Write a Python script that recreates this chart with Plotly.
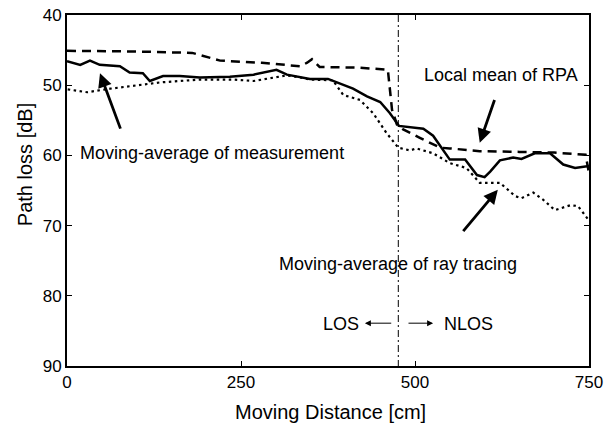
import plotly.graph_objects as go

# Moving-average of measurement (solid)
meas_x = [0, 19, 33, 47, 76, 90, 109, 119, 138, 162, 191, 234, 268, 301, 316, 349, 375, 411, 431, 450, 464, 477, 512, 526, 550, 572, 589, 600, 608, 622, 641, 653, 672, 694, 713, 730, 750]
meas_y = [46.6, 47.1, 46.5, 47.1, 47.3, 48.2, 48.3, 49.4, 48.7, 48.7, 48.9, 48.8, 48.5, 47.8, 48.5, 49.1, 49.1, 50.5, 51.6, 52.4, 54.0, 55.8, 56.2, 57.2, 60.6, 60.6, 62.8, 63.1, 62.3, 60.7, 60.3, 60.5, 59.7, 59.7, 61.3, 61.8, 61.5]

# Moving-average of ray tracing (dotted)
ray_x = [1, 29, 62, 105, 134, 191, 239, 268, 296, 316, 335, 349, 382, 397, 421, 440, 459, 476, 493, 502, 526, 550, 574, 593, 622, 644, 653, 670, 684, 701, 723, 734, 741, 750]
ray_y = [50.6, 51.0, 50.5, 50.0, 49.6, 49.2, 49.2, 49.4, 48.9, 48.6, 48.9, 49.2, 49.3, 51.4, 52.1, 54.0, 56.8, 58.9, 59.3, 59.0, 59.7, 61.1, 61.8, 63.9, 63.9, 65.8, 66.1, 65.3, 66.3, 67.8, 67.1, 67.2, 68.1, 69.3]

# Local mean of RPA (dashed)
rpa_x = [0, 100, 180, 220, 280, 335, 345, 352, 363, 420, 461, 467, 474, 483, 507, 536, 550, 593, 650, 700, 745, 750]
rpa_y = [45.1, 45.2, 45.4, 46.5, 46.8, 47.3, 46.8, 46.3, 47.4, 47.5, 47.8, 53.5, 55.6, 56.3, 57.5, 58.9, 59.0, 59.4, 59.5, 59.6, 59.9, 62.5]

boundary_x = 476
x_ticks = [0, 250, 500, 750]
y_ticks = [40, 50, 60, 70, 80, 90]

FONT = "Liberation Sans, Arial, sans-serif"

fig = go.Figure()
fig.add_trace(go.Scatter(x=rpa_x, y=rpa_y, mode="lines",
                         line=dict(color="black", width=2.5, dash="9px,6px"), showlegend=False))
fig.add_trace(go.Scatter(x=ray_x, y=ray_y, mode="lines",
                         line=dict(color="black", width=2.2, dash="2.5px,3.5px"), showlegend=False))
fig.add_trace(go.Scatter(x=meas_x, y=meas_y, mode="lines",
                         line=dict(color="black", width=2.5), showlegend=False))
fig.add_trace(go.Scatter(x=[boundary_x, boundary_x], y=[40, 90], mode="lines",
                         line=dict(color="black", width=1, dash="7px,3px,2px,3px"), showlegend=False))

ann = []
def txt(x, y, s):
    ann.append(dict(x=x, y=y, xref="x", yref="y", text=s, showarrow=False,
                    xanchor="left", yanchor="middle", font=dict(size=18, color="black", family=FONT)))
def arr(hx, hy, tx, ty, w=2.8, size=1.0):
    ann.append(dict(x=hx, y=hy, xref="x", yref="y", ax=tx, ay=ty, axref="x", ayref="y",
                    text="", showarrow=True, arrowhead=2, arrowsize=size, arrowwidth=w, arrowcolor="black"))

txt(15.8, 59.7, "Moving-average of measurement")
txt(510, 48.6, "Local mean of RPA")
txt(301.7, 75.4, "Moving-average of ray tracing")
txt(365, 84.0, "LOS")
txt(539, 84.0, "NLOS")
arr(47.4, 48.3, 77.6, 56.4)
arr(593, 58.2, 615, 51.9)
arr(619, 64.9, 567.5, 71.0)
arr(428, 83.9, 468, 83.9, w=1, size=1.2)
arr(526, 83.9, 488.5, 83.9, w=1, size=1.2)

ann.append(dict(x=(25 - 67) / 522, y=1 - (160 - 6) / 360, xref="paper", yref="paper", text="Path loss [dB]",
                showarrow=False, xanchor="center", yanchor="middle",
                textangle=-90, font=dict(size=20, color="black", family=FONT)))
ann.append(dict(x=(330 - 67) / 522, y=1 - (413 - 6) / 360, xref="paper", yref="paper", text="Moving Distance [cm]",
                showarrow=False, xanchor="center", yanchor="middle",
                font=dict(size=20, color="black", family=FONT)))

fig.update_layout(
    width=616, height=430,
    margin=dict(l=67, r=27, t=6, b=64),
    paper_bgcolor="white", plot_bgcolor="white",
    annotations=ann,
    font=dict(family=FONT, color="black"),
)
fig.update_xaxes(range=[0, 750], tickvals=x_ticks, ticktext=[str(v) for v in x_ticks],
                 showgrid=False, zeroline=False, showline=True, linewidth=2, linecolor="black",
                 mirror="ticks", ticks="inside", ticklen=5, tickcolor="black", ticklabeloverflow="allow",
                 tickfont=dict(size=17, color="black", family=FONT))
fig.update_yaxes(range=[90, 40], tickvals=y_ticks, ticktext=[str(v) for v in y_ticks],
                 showgrid=False, zeroline=False, showline=True, linewidth=2, linecolor="black",
                 mirror="ticks", ticks="inside", ticklen=5, tickcolor="black", ticklabeloverflow="allow",
                 tickfont=dict(size=17, color="black", family=FONT))

fig.write_html("out.html")
